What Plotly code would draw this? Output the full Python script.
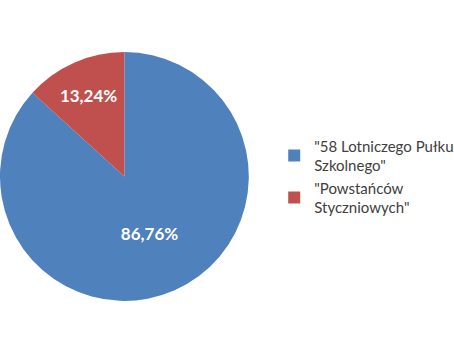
import plotly.graph_objects as go

labels = ['"58 Lotniczego Pułku<br>Szkolnego"', '"Powstańców<br>Styczniowych"']
values = [86.76, 13.24]
text_labels = ["86,76%", "13,24%"]
colors = ["#4F81BD", "#C0504D"]

fig = go.Figure(go.Pie(
    labels=labels,
    values=values,
    text=text_labels,
    texttemplate="%{text}",
    textposition="inside",
    insidetextorientation="horizontal",
    insidetextfont=dict(color="white", size=17, family="Lato", weight="bold"),
    marker=dict(colors=colors, line=dict(width=0)),
    sort=False,
    direction="clockwise",
    rotation=0,
    domain=dict(x=[0, 0.548], y=[0.1445, 0.8555]),
    hoverinfo="skip",
))

fig.update_layout(
    width=454, height=353,
    margin=dict(l=0, r=0, t=0, b=0, autoexpand=False),
    paper_bgcolor="white",
    plot_bgcolor="white",
    showlegend=True,
    legend=dict(
        x=0.604, y=0.5, xanchor="left", yanchor="middle",
        font=dict(family="Lato", size=15, color="#404040"),
        bgcolor="rgba(0,0,0,0)",
    ),
)

fig.write_html("out.html")
